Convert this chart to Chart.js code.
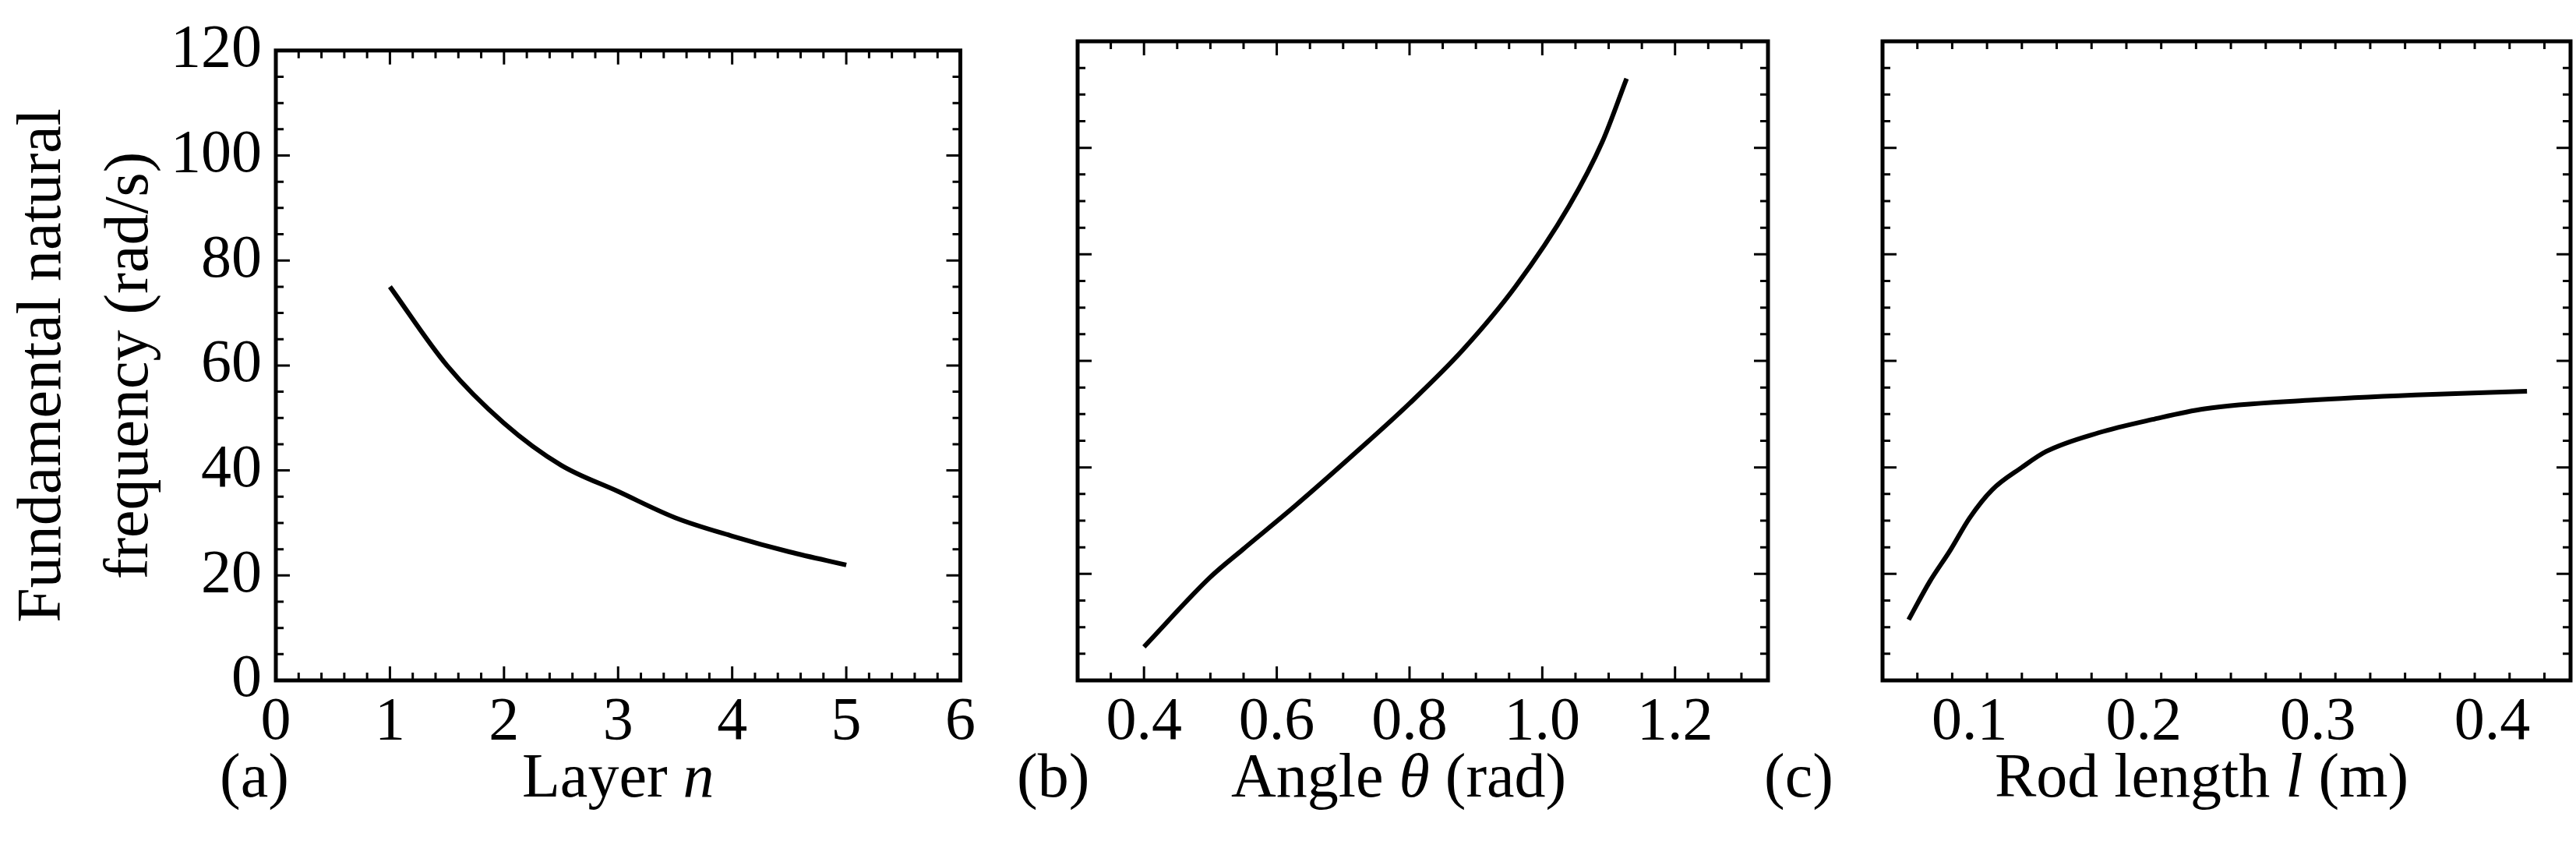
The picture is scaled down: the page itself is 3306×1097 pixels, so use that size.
<!DOCTYPE html>
<html>
<head>
<meta charset="utf-8">
<script src="https://cdn.jsdelivr.net/npm/chart.js@4"></script>
<style>
  body { margin: 0; width: 3306px; height: 1097px; background: #fff; position: relative; overflow: hidden; font-family: 'Liberation Serif', serif; }
  .panel { position: absolute; top: 0; height: 1097px; }
  .lbl { position: absolute; font-size: 80px; line-height: 1; color: #000; white-space: nowrap; }
</style>
</head>
<body>
<div class="panel" style="left:0;width:1260px"><canvas id="ca"></canvas></div>
<div class="panel" style="left:1300px;width:1000px"><canvas id="cb"></canvas></div>
<div class="panel" style="left:2330px;width:976px"><canvas id="cc"></canvas></div>
<div class="lbl" style="left:282px;top:955px">(a)</div>
<div class="lbl" style="left:670px;top:955px">Layer <i>n</i></div>
<div class="lbl" style="left:1305px;top:955px">(b)</div>
<div class="lbl" style="left:1580px;top:955px">Angle <i>θ</i> (rad)</div>
<div class="lbl" style="left:2264px;top:955px">(c)</div>
<div class="lbl" style="left:2560px;top:955px">Rod length <i>l</i> (m)</div>
<script>
// (a) frequency vs layer
const layerN = [1, 1.5, 2, 2.5, 3, 3.5, 4, 4.5, 5];
const layerFreq = [75, 60, 49, 41, 36, 31, 27.5, 24.5, 22];
// (b) frequency vs angle
const angleTheta = [0.40, 0.50, 0.548, 0.627, 0.72, 0.80, 0.88, 0.96, 1.04, 1.09, 1.127];
const angleFreq = [6.3, 19.4, 24.5, 32.7, 42.9, 52, 62, 74, 89, 101, 113];
// (c) frequency vs rod length
const rodL = [0.065, 0.077, 0.089, 0.1, 0.113, 0.13, 0.144, 0.174, 0.205, 0.235, 0.295, 0.356, 0.42];
const rodFreq = [11.4, 18.5, 24.5, 30.5, 35.8, 40, 43, 46.5, 49, 51, 52.6, 53.6, 54.3];

const yTicks = [0, 20, 40, 60, 80, 100, 120];

const FONT = { family: 'Liberation Serif', size: 78 };

function pts(xs, ys) { return xs.map((x, i) => ({ x: x, y: ys[i] })); }

// inward ticks on all four sides plus frame
const frameTicks = {
  id: 'frameTicks',
  afterDraw(chart, args, o) {
    const c = chart.ctx, a = chart.chartArea, sx = chart.scales.x, sy = chart.scales.y;
    c.save();
    c.strokeStyle = '#000';
    c.lineWidth = 3;
    const eps = 1e-9;
    for (let v = o.xMin; v <= sx.max + eps; v += o.xMinor) {
      const px = sx.getPixelForValue(v);
      if (px < a.left + 2 || px > a.right - 2) continue;
      const major = Math.abs(Math.round(v / o.xMajor) * o.xMajor - v) < 1e-6;
      const len = major ? 18 : 10;
      c.beginPath();
      c.moveTo(px, a.bottom); c.lineTo(px, a.bottom - len);
      c.moveTo(px, a.top); c.lineTo(px, a.top + len);
      c.stroke();
    }
    for (let v = 0; v <= 120 + eps; v += 5) {
      const py = sy.getPixelForValue(v);
      if (py < a.top + 2 || py > a.bottom - 2) continue;
      const len = v % 20 === 0 ? 18 : 10;
      c.beginPath();
      c.moveTo(a.left, py); c.lineTo(a.left + len, py);
      c.moveTo(a.right, py); c.lineTo(a.right - len, py);
      c.stroke();
    }
    c.lineWidth = 5;
    c.strokeRect(a.left, a.top, a.right - a.left, a.bottom - a.top);
    c.restore();
  }
};

function makeChart(id, data, xmin, xmax, xTicks, xMinor, xMajor, decimals, yWidth, padRight, showY) {
  return new Chart(document.getElementById(id), {
    type: 'line',
    data: { datasets: [{ data: data, borderColor: '#000', borderWidth: 6, pointRadius: 0, cubicInterpolationMode: 'monotone', fill: false }] },
    options: {
      responsive: true,
      maintainAspectRatio: false,
      animation: false,
      layout: { padding: { top: 53, right: padRight, left: 0, bottom: 0 } },
      plugins: {
        legend: { display: false },
        tooltip: { enabled: false },
        frameTicks: { xMin: xmin, xMinor: xMinor, xMajor: xMajor }
      },
      scales: {
        x: {
          type: 'linear', min: xmin, max: xmax,
          afterBuildTicks: s => { s.ticks = xTicks.map(v => ({ value: v })); },
          afterFit: s => { s.height = 224; },
          border: { display: false },
          grid: { display: false, drawTicks: false },
          ticks: { color: '#000', font: FONT, padding: 8, maxRotation: 0,
                   callback: v => v.toFixed(decimals) }
        },
        y: {
          type: 'linear', min: 0, max: 120,
          afterBuildTicks: s => { s.ticks = yTicks.map(v => ({ value: v })); },
          afterFit: s => { s.width = yWidth; },
          border: { display: false },
          grid: { display: false, drawTicks: false },
          ticks: { display: showY, color: '#000', font: FONT, padding: 18 },
          title: { display: showY, text: ['Fundamental natural', 'frequency (rad/s)'], color: '#000',
                   font: { family: 'Liberation Serif', size: 80, lineHeight: 1.4 }, padding: 0 }
        }
      }
    },
    plugins: [frameTicks]
  });
}

makeChart('ca', pts(layerN, layerFreq), 0, 6, [0, 1, 2, 3, 4, 5, 6], 0.2, 1, 0, 354, 23, true);
makeChart('cb', pts(angleTheta, angleFreq), 0.3, 1.34, [0.4, 0.6, 0.8, 1.0, 1.2], 0.05, 0.2, 1, 83, 31, false);
makeChart('cc', pts(rodL, rodFreq), 0.05, 0.445, [0.1, 0.2, 0.3, 0.4], 0.02, 0.1, 1, 86, 7, false);
</script>
</body>
</html>
